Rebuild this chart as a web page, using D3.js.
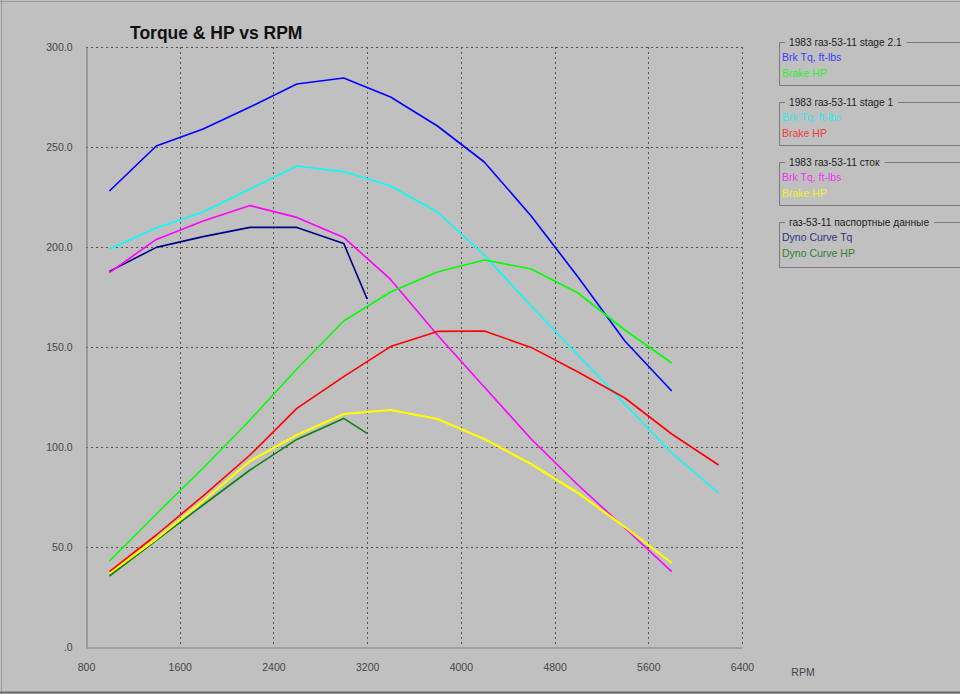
<!DOCTYPE html>
<html>
<head>
<meta charset="utf-8">
<script src="https://cdn.jsdelivr.net/npm/d3@7"></script>
<style>
  html, body { margin: 0; padding: 0; background: #c0c0c0; }
  svg { display: block; font-family: "Liberation Sans", Arial, sans-serif; }
</style>
</head>
<body>
<svg id="chart" width="960" height="694"></svg>
<script>
// ---- data ----
const xTicks = [800, 1600, 2400, 3200, 4000, 4800, 5600, 6400];
const yTicks = [0, 50, 100, 150, 200, 250, 300];

const rpmStage21 = [1000, 1400, 1800, 2200, 2600, 3000, 3400, 3800, 4200, 4600, 5000, 5400, 5800];
const tqStage21  = [228, 250.5, 259, 270, 281.5, 284.5, 275, 260.5, 242.5, 215.5, 185, 153, 128];
const hpStage21  = [43, 66.5, 89.5, 113.5, 139, 163, 177.5, 187.5, 193.5, 189, 177, 158.5, 142];

const rpmStage1 = [1000, 1400, 1800, 2200, 2600, 3000, 3400, 3800, 4200, 4600, 5000, 5400, 5800, 6200];
const tqStage1  = [199, 209.5, 217.5, 229, 240.5, 237.7, 230.5, 217.5, 196, 170.5, 146, 121.5, 97, 77];
const hpStage1  = [37.7, 56, 75.6, 96, 119.3, 135.2, 150.2, 157.8, 158, 149.8, 137.5, 124.5, 106.5, 91];

const rpmStock = [1000, 1400, 1800, 2200, 2600, 3000, 3400, 3800, 4200, 4600, 5000, 5400, 5800];
const tqStock  = [187.2, 203.8, 213, 220.7, 214.8, 204.8, 183.8, 156, 130, 104, 81, 59.5, 37.7];
const hpStock  = [37, 54, 73, 93, 106, 116.5, 118.5, 114, 104, 91.5, 77, 60, 42];

const rpmDyno = [1000, 1400, 1800, 2200, 2600, 3000, 3200];
const tqDyno  = [187.8, 199.8, 205.2, 209.8, 209.8, 201.8, 174];
const hpDyno  = [35.5, 53.3, 71, 88.5, 103.8, 114.3, 106.8];

const groupNames = ["1983 газ-53-11 stage 2.1", "1983 газ-53-11 stage 1", "1983 газ-53-11 сток", "газ-53-11 паспортные данные"];
const seriesNames = [["Brk Tq, ft-lbs", "Brake HP"], ["Brk Tq, ft-lbs", "Brake HP"], ["Brk Tq, ft-lbs", "Brake HP"], ["Dyno Curve Tq", "Dyno Curve HP"]];
const seriesColors = [["#0000ff", "#00ff00"], ["#00ffff", "#ff0000"], ["#ff00ff", "#ffff00"], ["#000080", "#108010"]];
const legendTextColors = [["#3c3cff", "#30f030"], ["#30e8e8", "#f03c3c"], ["#f030f0", "#f0f030"], ["#303080", "#308030"]];

const groups = [
  {rpm: rpmStage21, tq: tqStage21, hp: hpStage21},
  {rpm: rpmStage1, tq: tqStage1, hp: hpStage1},
  {rpm: rpmStock, tq: tqStock, hp: hpStock},
  {rpm: rpmDyno, tq: tqDyno, hp: hpDyno}
];

// ---- layout ----
const svg = d3.select("#chart");
const x = d3.scaleLinear().domain([800, 6400]).range([86, 742]);
const y = d3.scaleLinear().domain([0, 300]).range([647, 47]);

// outer frame
svg.append("line").attr("x1", 0).attr("x2", 960).attr("y1", 1.5).attr("y2", 1.5).attr("stroke", "#9a9a9a");
svg.append("line").attr("x1", 1.5).attr("x2", 1.5).attr("y1", 0).attr("y2", 694).attr("stroke", "#9a9a9a");
svg.append("line").attr("x1", 0).attr("x2", 960).attr("y1", 692.5).attr("y2", 692.5).attr("stroke", "#6a6a6a").attr("stroke-width", 2);

// title
svg.append("text").attr("x", 130).attr("y", 38.5)
  .attr("font-size", 17.5).attr("font-weight", "bold").attr("fill", "#111")
  .text("Torque & HP vs RPM");

// gridlines
const grid = svg.append("g").attr("stroke", "#555").attr("stroke-dasharray", "2,3").attr("stroke-width", 1);
xTicks.filter(d => d > 800).forEach(d => {
  grid.append("line").attr("x1", Math.round(x(d)) + 0.5).attr("x2", Math.round(x(d)) + 0.5)
    .attr("y1", y(300)).attr("y2", y(0));
});
yTicks.filter(d => d > 0).forEach(d => {
  grid.append("line").attr("x1", x(800)).attr("x2", x(6400))
    .attr("y1", Math.round(y(d)) + 0.5).attr("y2", Math.round(y(d)) + 0.5);
});

// axes
const xAxis = d3.axisBottom(x).tickValues(xTicks).tickSize(0).tickPadding(16).tickFormat(d3.format("d"));
const gx = svg.append("g").attr("transform", "translate(0,647.5)").call(xAxis);
const yAxis = d3.axisLeft(y).tickValues(yTicks).tickSize(0).tickPadding(14)
  .tickFormat(d => d === 0 ? ".0" : d.toFixed(1));
const gy = svg.append("g").attr("transform", "translate(86.5,0)").call(yAxis);
[gx, gy].forEach(g => {
  g.select(".domain").attr("stroke", "#808080").attr("stroke-width", 1.2);
  g.selectAll("text").attr("font-size", 10.5).attr("fill", "#454545")
    .attr("font-family", "'Liberation Sans', Arial, sans-serif");
});

svg.append("text").attr("x", 803).attr("y", 675.5).attr("text-anchor", "middle")
  .attr("font-size", 10.5).attr("fill", "#454545").text("RPM");

// lines
const line = d3.line().x(d => x(d[0])).y(d => y(d[1]));
const drawOrder = [3, 2, 1, 0];
drawOrder.forEach(gi => {
  const g = groups[gi];
  ["tq", "hp"].forEach((k, si) => {
    const pts = g.rpm.map((r, i) => [r, g[k][i]]);
    svg.append("path").datum(pts).attr("d", line)
      .attr("fill", "none")
      .attr("stroke", seriesColors[gi][si])
      .attr("stroke-width", (gi === 2 && si === 1) ? 2.2 : 1.6)
      .attr("stroke-linejoin", "round");
  });
});

// legend group boxes
const boxTops = [42.5, 102.5, 162.5, 222.5];
const boxH = [43, 43, 43, 45];
const lg = svg.append("g");
groupNames.forEach((name, i) => {
  const top = boxTops[i];
  const t = lg.append("text").attr("x", 789).attr("y", top + 3.8)
    .attr("font-size", 10.2).attr("fill", "#222").text(name);
  const tw = t.node().getComputedTextLength();
  const gray = "#7a7a7a";
  lg.append("path")
    .attr("d", `M785,${top} H779.5 V${top + boxH[i]} H960 M${789 + tw + 5},${top} H960`)
    .attr("fill", "none").attr("stroke", gray).attr("stroke-width", 1);
  seriesNames[i].forEach((sn, j) => {
    lg.append("text").attr("x", 782).attr("y", top + 18.8 + j * 16)
      .attr("font-size", 10.5).attr("fill", legendTextColors[i][j]).text(sn);
  });
});
</script>
</body>
</html>
